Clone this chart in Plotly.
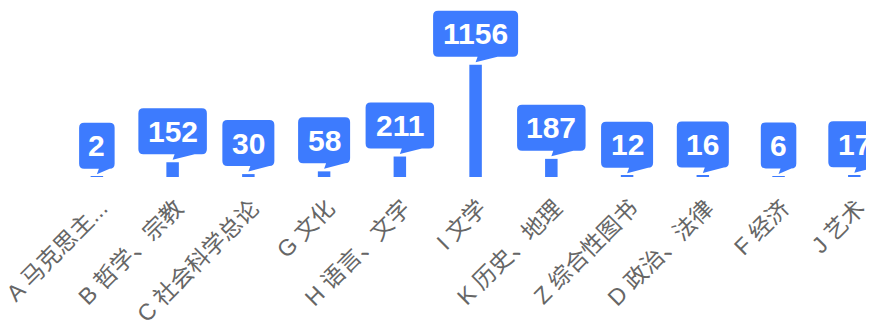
import plotly.graph_objects as go

categories = ["A 马克思主...", "B 哲学、宗教", "C 社会科学总论", "G 文化", "H 语言、文字",
              "I 文学", "K 历史、地理", "Z 综合性图书", "D 政治、法律", "F 经济", "J 艺术"]
values = [2, 152, 30, 58, 211, 1156, 187, 12, 16, 6, 17]

BLUE = "#3d7bfe"

fig = go.Figure()
fig.add_trace(go.Bar(
    x=list(range(len(categories))), y=values,
    width=0.165, marker=dict(color=BLUE, line=dict(width=0)),
    hoverinfo="skip",
))

shapes = []
annotations = []
for i, v in enumerate(values):
    txt = str(v)
    w = 16.5 * len(txt) + 19
    L, R = -w / 2, w / 2
    r = 5
    yb, yt = 8, 54
    tip_y = 2.5
    tr = min(22, R - r)
    path = (f"M {L + r},{yb} L 2,{yb} L 0,{tip_y} L {tr},{yb} L {R - r},{yb} "
            f"Q {R},{yb} {R},{yb + r} L {R},{yt - r} Q {R},{yt} {R - r},{yt} "
            f"L {L + r},{yt} Q {L},{yt} {L},{yt - r} L {L},{yb + r} Q {L},{yb} {L + r},{yb} Z")
    shapes.append(dict(
        type="path", xref="x", yref="y", xsizemode="pixel", ysizemode="pixel",
        xanchor=i, yanchor=v, path=path, fillcolor=BLUE, line=dict(width=0),
        layer="above",
    ))
    annotations.append(dict(
        x=i, y=v, xref="x", yref="y", text=f"<b>{txt}</b>", showarrow=False,
        yanchor="middle", xanchor="center", yshift=(yb + yt) / 2,
        font=dict(family="Liberation Sans, Arial, sans-serif", size=30, color="white"),
    ))

# page body has an 8px margin, so the figure is 8px smaller than the window
fig.update_layout(
    template="none",
    width=866, height=313,
    margin=dict(l=50.6, r=0, t=0, b=144, autoexpand=False),
    paper_bgcolor="white", plot_bgcolor="white",
    showlegend=False,
    shapes=shapes, annotations=annotations,
    xaxis=dict(
        range=[-0.5, 10.26], tickmode="array", automargin=False,
        tickvals=list(range(len(categories))), ticktext=categories,
        tickangle=-45, showgrid=False, zeroline=False, showline=False,
        ticks="", ticklabelstandoff=12, ticklabelshift=4, ticklabeloverflow="allow",
        tickfont=dict(family="Liberation Sans, Noto Sans CJK SC, sans-serif", size=23, color="#666666"),
    ),
    yaxis=dict(range=[0, 1742], visible=False, showgrid=False, zeroline=False, automargin=False),
)

fig.write_html("out.html")
